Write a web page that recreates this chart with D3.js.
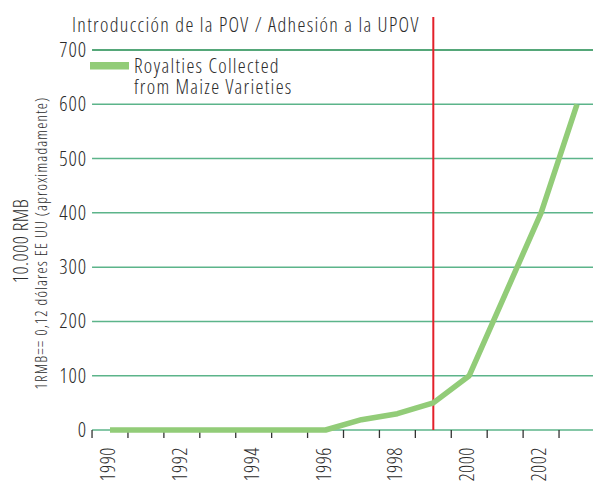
<!DOCTYPE html>
<html>
<head>
<meta charset="utf-8">
<script src="https://d3js.org/d3.v7.min.js"></script>
<style>
body { margin: 0; background: #fff; }
text { font-family: "Open Sans", "Roboto", sans-serif; font-stretch: 75%; font-weight: 300; fill: #2b2b2b; }
</style>
</head>
<body>
<script>
// data
var years = [1990, 1991, 1992, 1993, 1994, 1995, 1996, 1997, 1998, 1999, 2000, 2001, 2002, 2003];
var royalties = [0, 0, 0, 0, 0, 0, 0, 19, 30, 50, 100, 250, 400, 600];
var yTicks = [0, 100, 200, 300, 400, 500, 600, 700];
var yearLabels = [1990, 1992, 1994, 1996, 1998, 2000, 2002];
var eventYear = 1999;
var titleText = "Introducción de la POV / Adhesión a la UPOV";
var legendLines = ["Royalties Collected", "from Maize Varieties"];
var yTitle = "10.000 RMB";
var ySubTitle = "1RMB== 0,12 dólares EE UU (aproximadamente)";

var W = 593, H = 483;
var svg = d3.select("body").append("svg").attr("width", W).attr("height", H);

var x = d3.scaleLinear().domain([1990, 2003]).range([110, 577]);
var y = d3.scaleLinear().domain([0, 700]).range([430, 50]);
var x0 = x(1989.5);

// gridlines
svg.selectAll("line.grid").data(yTicks).enter().append("line")
  .attr("class", "grid")
  .attr("x1", x0).attr("x2", W)
  .attr("y1", function(d){ return y(d); }).attr("y2", function(d){ return y(d); })
  .attr("stroke", function(d){ return d == 700 ? "#1d8a4c" : "#5cb48a"; })
  .attr("stroke-width", 1.5);

// y labels
svg.selectAll("text.ylab").data(yTicks).enter().append("text")
  .attr("class", "ylab")
  .attr("x", x0 - 5).attr("y", function(d){ return y(d) + 7; })
  .attr("text-anchor", "end")
  .style("font-size", "20.5px")
  .style("letter-spacing", "0.9px")
  .text(function(d){ return d; });

// x ticks at year boundaries
var tickYears = years.map(function(d){ return d - 0.5; });
svg.selectAll("line.xtick").data(tickYears).enter().append("line")
  .attr("class", "xtick")
  .attr("x1", function(d){ return x(d); }).attr("x2", function(d){ return x(d); })
  .attr("y1", 430).attr("y2", 438)
  .attr("stroke", "#333").attr("stroke-width", 1.3);

svg.selectAll("text.xlab").data(yearLabels).enter().append("text")
  .attr("class", "xlab")
  .attr("transform", function(d){ return "translate(" + (x(d) + 5) + ",447) rotate(-90)"; })
  .attr("text-anchor", "end")
  .style("font-size", "20px")
  .style("letter-spacing", "0.5px")
  .text(function(d){ return d; });

// event line
svg.append("line")
  .attr("x1", x(eventYear)).attr("x2", x(eventYear))
  .attr("y1", 17).attr("y2", 430)
  .attr("stroke", "#e3202a").attr("stroke-width", 2);

svg.append("text")
  .attr("x", 72).attr("y", 32)
  .style("font-size", "20px")
  .style("letter-spacing", "1.35px")
  .text(titleText);

// series
var line = d3.line()
  .x(function(d, i){ return x(years[i]); })
  .y(function(d){ return y(d); });
svg.append("path")
  .datum(royalties)
  .attr("d", line)
  .attr("fill", "none")
  .attr("stroke", "#92cc78")
  .attr("stroke-width", 5.5)
  .attr("stroke-linejoin", "round");

// legend
svg.append("rect").attr("x", 90).attr("y", 62).attr("width", 39).attr("height", 7.5).attr("fill", "#92cc78");
svg.selectAll("text.leg").data(legendLines).enter().append("text")
  .attr("class", "leg")
  .attr("x", 134).attr("y", function(d, i){ return 73 + i * 20.5; })
  .style("font-size", "20px")
  .style("letter-spacing", "1.3px")
  .text(function(d){ return d; });

// y titles
svg.append("text")
  .attr("transform", "translate(28,241) rotate(-90)")
  .attr("text-anchor", "middle")
  .style("font-size", "20px")
  .style("letter-spacing", "0.5px")
  .text(yTitle);
svg.append("text")
  .attr("transform", "translate(47,243) rotate(-90)")
  .attr("text-anchor", "middle")
  .style("font-size", "15.5px")
  .style("letter-spacing", "1.1px")
  .text(ySubTitle);
</script>
</body>
</html>
